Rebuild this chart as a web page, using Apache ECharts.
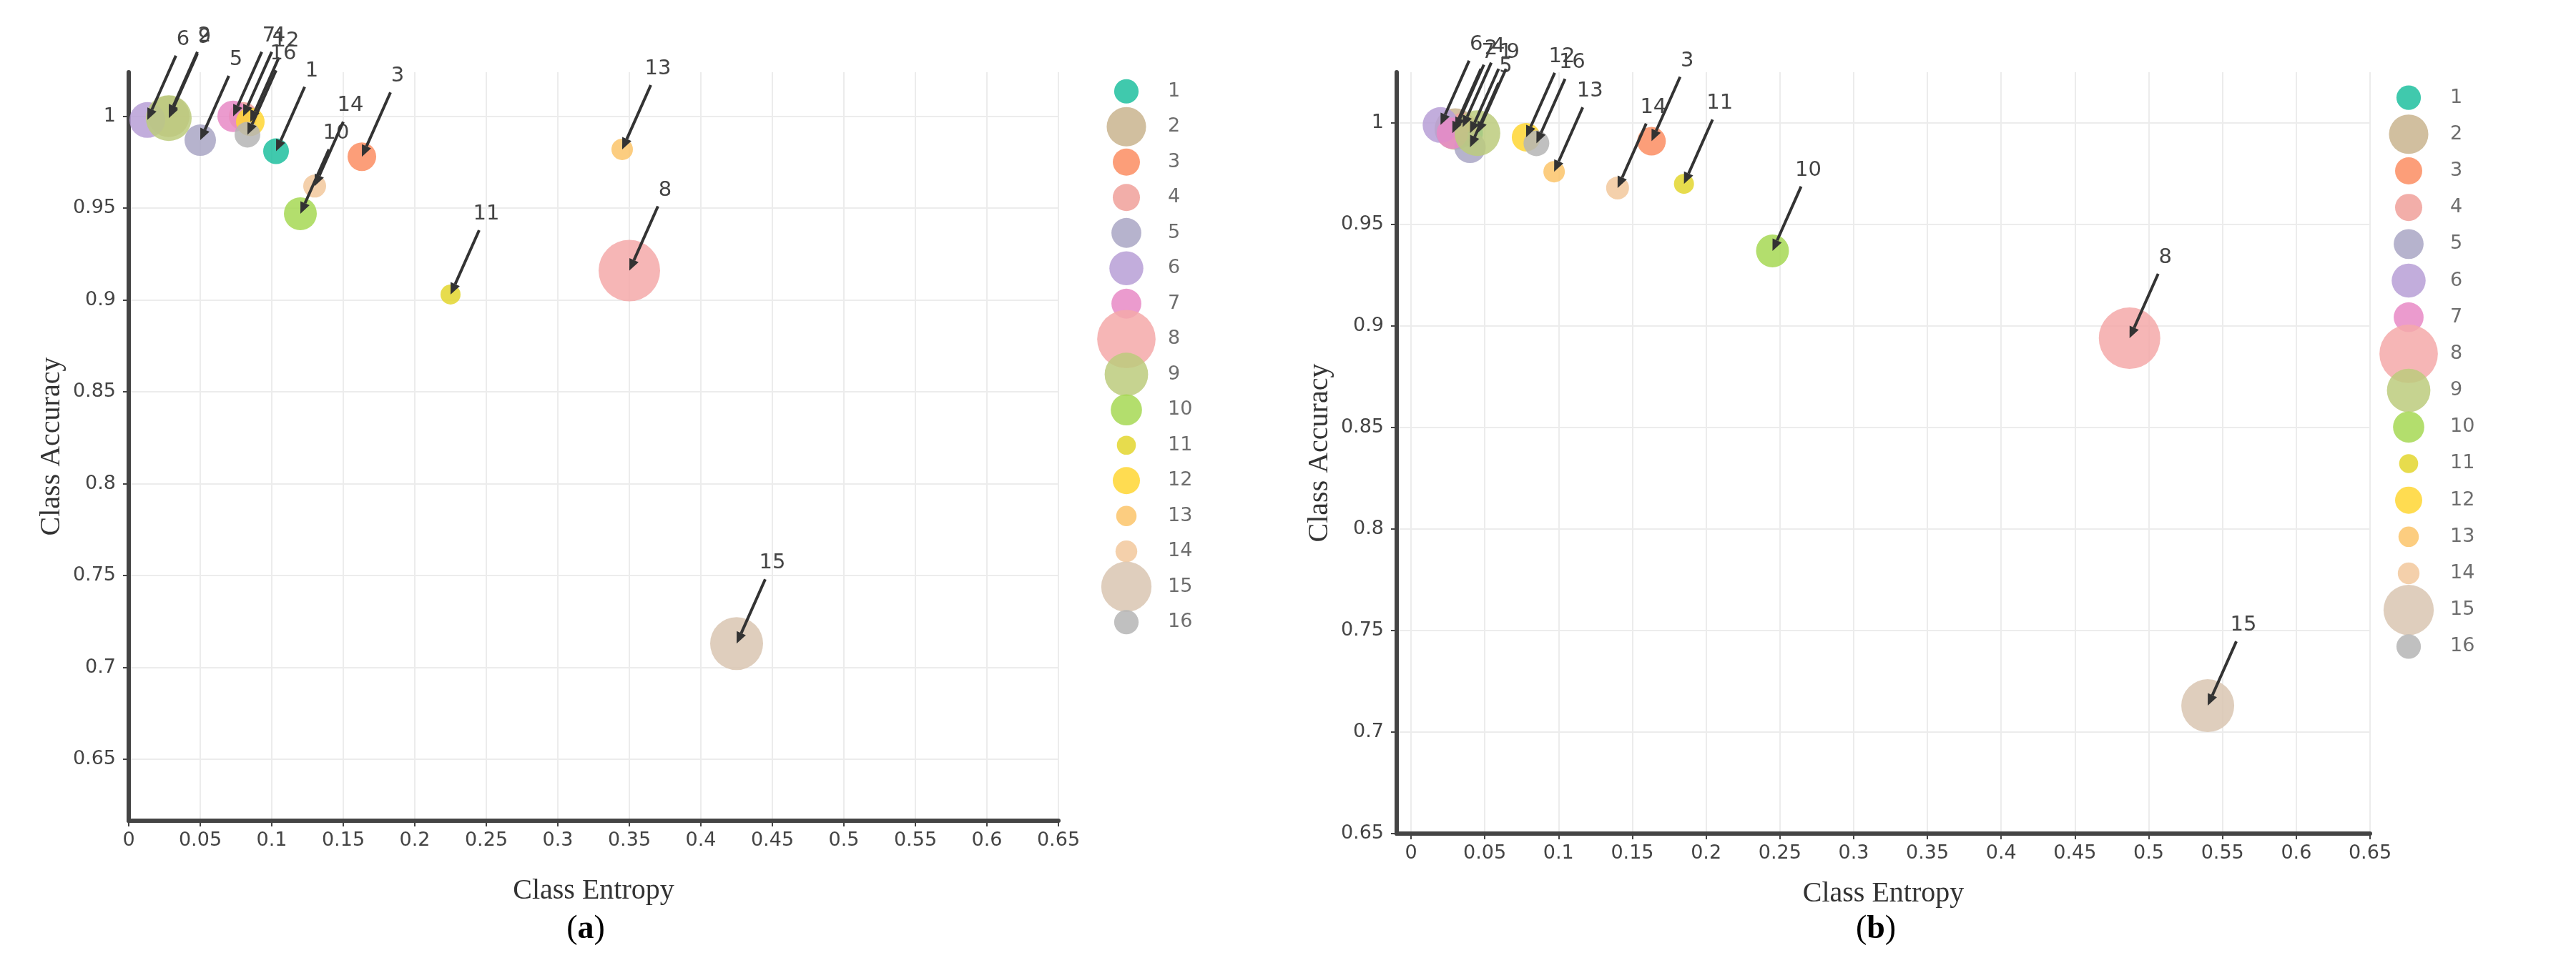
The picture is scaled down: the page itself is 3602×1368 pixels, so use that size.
<!DOCTYPE html>
<html>
<head>
<meta charset="utf-8">
<script src="https://cdn.jsdelivr.net/npm/echarts@6/dist/echarts.min.js"></script>
<style>html,body{margin:0;background:#fff}#main{width:3602px;height:1368px}</style>
</head>
<body>
<div id="main"></div>
<script>
// class names, colours and bubble sizes (diameter, px)
var classes = ['1','2','3','4','5','6','7','8','9','10','11','12','13','14','15','16'];
var colors = ['#1fbf9f','#c9b48e','#fc8d62','#f0a09a','#a9a6c4','#b79fd6','#e88ac6','#f5a9a9',
              '#bccb7c','#a6d854','#e3d62e','#ffd633','#fcc46a','#f2c89c','#d9c5b2','#b5b5b5'];
var sizes = [36,58,40,40,44,50,44,86,64,46,28,40,30,32,74,36];

// panel (a): entropy, accuracy per class
var entropyA = [0.103,0.028,0.163,0.080,0.050,0.013,0.073,0.350,0.028,0.120,0.225,0.085,0.345,0.130,0.425,0.083];
var accuracyA = [0.981,1.000,0.978,1.000,0.987,0.998,1.000,0.916,0.999,0.947,0.903,0.997,0.982,0.962,0.713,0.990];
// panel (b)
var entropyB = [0.040,0.030,0.163,0.035,0.040,0.020,0.028,0.487,0.045,0.245,0.185,0.078,0.097,0.140,0.540,0.085];
var accuracyB = [0.995,0.997,0.991,0.998,0.988,0.999,0.995,0.894,0.995,0.937,0.970,0.993,0.976,0.968,0.713,0.990];

var xTicks = [0,0.05,0.1,0.15,0.2,0.25,0.3,0.35,0.4,0.45,0.5,0.55,0.6,0.65];
var yTicks = [0.65,0.7,0.75,0.8,0.85,0.9,0.95,1];

var FONT = 'Liberation Serif';
var chart = echarts.init(document.getElementById('main'));

function xAxis(idx, min, gap) {
    return {
        gridIndex: idx, type: 'value', min: min, max: 0.65,
        name: 'Class Entropy', nameLocation: 'middle', nameGap: gap,
        nameTextStyle: {fontFamily: FONT, fontSize: 40, color: '#333'},
        axisLine: {onZero: false, lineStyle: {color: '#444', width: 6}},
        axisTick: {customValues: xTicks, length: 8, lineStyle: {color: '#444', width: 2}},
        axisLabel: {customValues: xTicks, fontFamily: 'DejaVu Sans', fontSize: 27, color: '#444', margin: 14},
        splitLine: {lineStyle: {color: '#ececec', width: 2}}
    };
}
function yAxis(idx, min, max) {
    return {
        gridIndex: idx, type: 'value', min: min, max: max,
        name: 'Class Accuracy', nameLocation: 'middle', nameGap: 88,
        nameTextStyle: {fontFamily: FONT, fontSize: 40, color: '#333'},
        axisLine: {onZero: false, lineStyle: {color: '#444', width: 6}},
        axisTick: {customValues: yTicks, length: 8, lineStyle: {color: '#444', width: 2}},
        axisLabel: {customValues: yTicks, fontFamily: 'DejaVu Sans', fontSize: 27, color: '#444', margin: 18},
        splitLine: {lineStyle: {color: '#ececec', width: 2}}
    };
}

// bubbles, one series per panel
function bubbles(idx, xs, ys) {
    return {
        type: 'scatter', xAxisIndex: idx, yAxisIndex: idx, z: 2,
        data: classes.map(function(c, i) {
            return {value: [xs[i], ys[i]], symbolSize: sizes[i], itemStyle: {color: colors[i], opacity: 0.85}};
        })
    };
}

// arrow annotations pointing at each bubble
function arrows(idx, xs, ys) {
    return {
        type: 'custom', xAxisIndex: idx, yAxisIndex: idx, z: 5, silent: true,
        data: classes.map(function(c, i) { return [xs[i], ys[i], c]; }),
        renderItem: function(params, api) {
            var p = api.coord([api.value(0), api.value(1)]);
            var sx = p[0] + 40, sy = p[1] - 90;
            var ang = Math.atan2(p[1] - sy, p[0] - sx);
            var h = 16, w = 7;
            var bx = p[0] - h * Math.cos(ang), by = p[1] - h * Math.sin(ang);
            var nx = -Math.sin(ang) * w, ny = Math.cos(ang) * w;
            return {type: 'group', children: [
                {type: 'line', shape: {x1: sx, y1: sy, x2: bx, y2: by}, style: {stroke: '#333', lineWidth: 4}},
                {type: 'polygon', shape: {points: [[p[0], p[1]], [bx + nx, by + ny], [bx - nx, by - ny]]}, style: {fill: '#333'}},
                {type: 'text', x: sx + 10, y: sy - 8, style: {text: api.value(2), fontFamily: 'DejaVu Sans', fontSize: 29, fill: '#444', textAlign: 'center', textVerticalAlign: 'bottom'}}
            ]};
        }
    };
}

// legend drawn as a scatter on a category axis so marker sizes vary
function legendSeries(idx) {
    return {
        type: 'scatter', xAxisIndex: idx, yAxisIndex: idx,
        data: classes.map(function(c, i) {
            return {value: [0, c], symbolSize: sizes[i] * 0.95, itemStyle: {color: colors[i], opacity: 0.85}};
        }),
        label: {show: true, position: 'inside', offset: [58, 0],
                formatter: function(p) { return p.value[1]; },
                fontFamily: 'DejaVu Sans', fontSize: 27, color: '#555', align: 'left'}
    };
}
function legendX(idx) { return {gridIndex: idx, type: 'value', min: -1, max: 1, show: false}; }
function legendY(idx) { return {gridIndex: idx, type: 'category', data: classes, inverse: true, show: false}; }

chart.setOption({
    backgroundColor: '#fff',
    animation: false,
    grid: [
        {left: 180, top: 101, width: 1300, height: 1047},
        {left: 1953, top: 101, width: 1361, height: 1065},
        {left: 1540, top: 103, width: 70, height: 792},
        {left: 3333, top: 111, width: 70, height: 819}
    ],
    xAxis: [xAxis(0, 0, 78), xAxis(1, -0.0097, 64), legendX(2), legendX(3)],
    yAxis: [yAxis(0, 0.6166, 1.024), yAxis(1, 0.65, 1.025), legendY(2), legendY(3)],
    series: [
        bubbles(0, entropyA, accuracyA), arrows(0, entropyA, accuracyA),
        bubbles(1, entropyB, accuracyB), arrows(1, entropyB, accuracyB),
        legendSeries(2), legendSeries(3)
    ],
    graphic: [
        {type: 'text', x: 819, y: 1300, style: {rich: {p: {fontFamily: FONT, fontSize: 46, fill: '#000'}, b: {fontFamily: FONT, fontSize: 46, fontWeight: 'bold', fill: '#000'}}, text: '{p|(}{b|a}{p|)}', textAlign: 'center', textVerticalAlign: 'middle'}},
        {type: 'text', x: 2623, y: 1300, style: {rich: {p: {fontFamily: FONT, fontSize: 46, fill: '#000'}, b: {fontFamily: FONT, fontSize: 46, fontWeight: 'bold', fill: '#000'}}, text: '{p|(}{b|b}{p|)}', textAlign: 'center', textVerticalAlign: 'middle'}}
    ]
});
</script>
</body>
</html>
